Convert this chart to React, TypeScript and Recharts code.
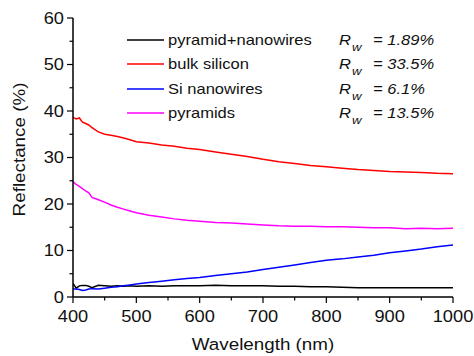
import React from 'react';
import { LineChart, Line, XAxis, YAxis, Legend } from 'recharts';

const wavelengths = [400, 405, 410, 415, 420, 425, 430, 440, 450, 460, 470, 480, 490, 500, 520, 540, 560, 580, 600, 625, 650, 675, 700, 725, 750, 775, 800, 825, 850, 875, 900, 925, 950, 975, 1000];
const pyramidNanowires = [2.9, 1.9, 2.4, 2.5, 2.5, 2.3, 2.0, 2.5, 2.4, 2.3, 2.4, 2.3, 2.4, 2.3, 2.4, 2.3, 2.4, 2.4, 2.4, 2.5, 2.4, 2.4, 2.4, 2.3, 2.3, 2.2, 2.2, 2.1, 2.0, 2.0, 2.0, 2.0, 2.0, 2.0, 2.0];
const bulkSilicon = [38.6, 38.3, 38.5, 37.6, 37.3, 37.0, 36.4, 35.5, 35.0, 34.8, 34.5, 34.2, 33.8, 33.4, 33.1, 32.7, 32.4, 32.0, 31.7, 31.2, 30.7, 30.2, 29.6, 29.1, 28.7, 28.3, 28.0, 27.7, 27.4, 27.2, 27.0, 26.9, 26.8, 26.6, 26.5];
const siNanowires = [1.7, 1.7, 1.6, 1.4, 1.5, 1.7, 1.8, 1.7, 1.9, 2.1, 2.2, 2.4, 2.6, 2.8, 3.1, 3.4, 3.7, 4.0, 4.2, 4.6, 5.0, 5.4, 5.9, 6.4, 6.9, 7.4, 7.9, 8.2, 8.6, 9.0, 9.5, 9.9, 10.3, 10.8, 11.2];
const pyramids = [24.8, 24.2, 23.8, 23.3, 22.8, 22.4, 21.4, 20.9, 20.4, 19.8, 19.3, 18.9, 18.5, 18.1, 17.6, 17.2, 16.8, 16.5, 16.3, 16.0, 15.9, 15.7, 15.5, 15.3, 15.2, 15.2, 15.1, 15.1, 15.0, 14.9, 14.9, 14.7, 14.8, 14.7, 14.8];

const seriesNames = ['pyramid+nanowires', 'bulk silicon', 'Si nanowires', 'pyramids'];
const seriesKeys = ['pn', 'bulk', 'nw', 'pyr'];
const seriesColors = ['#000000', '#ff0000', '#0000ff', '#ff00ff'];
const rwValues = ['1.89%', '33.5%', '6.1%', '13.5%'];

const xMajorTicks = [400, 500, 600, 700, 800, 900, 1000];
const xMinorTicks = [450, 550, 650, 750, 850, 950];
const yMajorTicks = [0, 10, 20, 30, 40, 50, 60];
const yMinorTicks = [5, 15, 25, 35, 45, 55];

const xLabel = 'Wavelength (nm)';
const yLabel = 'Reflectance (%)';

const data = wavelengths.map((wl, i) => ({
  wl,
  pn: pyramidNanowires[i],
  bulk: bulkSilicon[i],
  nw: siNanowires[i],
  pyr: pyramids[i],
}));

const xAllTicks = [...xMajorTicks, ...xMinorTicks].sort((a, b) => a - b);
const yAllTicks = [...yMajorTicks, ...yMinorTicks].sort((a, b) => a - b);

const FONT = '"Liberation Sans", Arial, Helvetica, sans-serif';
const SX = 1.14;

const XTick = (props: any) => {
  const { x, y, payload } = props;
  const major = xMajorTicks.includes(payload.value);
  return (
    <g>
      <line x1={x} x2={x} y1={y} y2={y + (major ? 6 : 3.5)} stroke="#000" strokeWidth={1.2} />
      {major && (
        <text transform={`translate(${x},${y + 25}) scale(${SX},1)`} textAnchor="middle" fontSize={16} fontFamily={FONT} fill="#111">
          {payload.value}
        </text>
      )}
    </g>
  );
};

const YTick = (props: any) => {
  const { x, y, payload } = props;
  const major = yMajorTicks.includes(payload.value);
  return (
    <g>
      <line x1={x} x2={x - (major ? 6 : 3.5)} y1={y} y2={y} stroke="#000" strokeWidth={1.2} />
      {major && (
        <text transform={`translate(${x - 9},${y + 5.8}) scale(${SX},1)`} textAnchor="end" fontSize={16} fontFamily={FONT} fill="#111">
          {payload.value}
        </text>
      )}
    </g>
  );
};

const XLabelContent = (props: any) => {
  const vb = props.viewBox || {};
  const cx = vb.x + vb.width / 2;
  return (
    <text transform={`translate(${cx},350) scale(${SX},1)`} textAnchor="middle" fontSize={16.5} fontFamily={FONT} fill="#111">
      {xLabel}
    </text>
  );
};

const YLabelContent = () => (
  <text transform={`translate(25,149.5) rotate(-90) scale(${SX},1)`} textAnchor="middle" fontSize={16.5} fontFamily={FONT} fill="#111">
    {yLabel}
  </text>
);

const LegendContent = () => {
  return (
    <div style={{ position: 'relative', width: 474, height: 356, fontFamily: FONT, color: '#111' }}>
      {seriesNames.map((name, i) => {
        const top = 30 + i * 24.4;
        const textStyle: React.CSSProperties = {
          position: 'absolute',
          top: 0,
          lineHeight: '20px',
          fontSize: 14.5,
          whiteSpace: 'nowrap',
          transform: `scaleX(${SX})`,
          transformOrigin: 'left center',
        };
        return (
          <div key={i} style={{ position: 'absolute', left: 0, top, width: 474, height: 20 }}>
            <svg style={{ position: 'absolute', left: 127, top: 0 }} width={37} height={20}>
              <line x1={0} x2={37} y1={10} y2={10} stroke={seriesColors[i]} strokeWidth={1.6} />
            </svg>
            <span style={{ ...textStyle, left: 168 }}>{name}</span>
            <span style={{ ...textStyle, left: 339, fontStyle: 'italic' }}>
              R<span style={{ position: 'relative', top: 6, fontSize: 11.5, marginLeft: 1 }}>w</span>
            </span>
            <span style={{ ...textStyle, left: 373, fontStyle: 'italic' }}>= {rwValues[i]}</span>
          </div>
        );
      })}
    </div>
  );
};

export default function App() {
  return (
    <div style={{ position: 'absolute', left: 0, top: 0, width: 474, height: 356, background: '#fff' }}>
      <LineChart width={474} height={356} data={data} margin={{ top: 18, right: 21, bottom: 29, left: 18 }}>
        <XAxis
          dataKey="wl"
          type="number"
          domain={[400, 1000]}
          ticks={xAllTicks}
          height={30}
          axisLine={{ stroke: '#000', strokeWidth: 1.5 }}
          tickLine={false}
          tickSize={0}
          tickMargin={0}
          tick={XTick}
          interval={0}
          allowDataOverflow
          label={{ content: XLabelContent }}
        />
        <YAxis
          type="number"
          domain={[0, 60]}
          ticks={yAllTicks}
          width={55}
          axisLine={{ stroke: '#000', strokeWidth: 1.5 }}
          tickLine={false}
          tickSize={0}
          tickMargin={0}
          tick={YTick}
          interval={0}
          allowDataOverflow
          label={{ content: YLabelContent }}
        />
        <Legend
          layout="vertical"
          align="center"
          verticalAlign="middle"
          wrapperStyle={{ position: 'absolute', left: 0, top: 0, width: 474, height: 356, pointerEvents: 'none' }}
          content={LegendContent}
        />
        {seriesKeys.map((k, i) => (
          <Line
            key={k}
            type="linear"
            dataKey={k}
            name={seriesNames[i]}
            stroke={seriesColors[i]}
            strokeWidth={1.5}
            dot={false}
            isAnimationActive={false}
          />
        ))}
      </LineChart>
    </div>
  );
}
